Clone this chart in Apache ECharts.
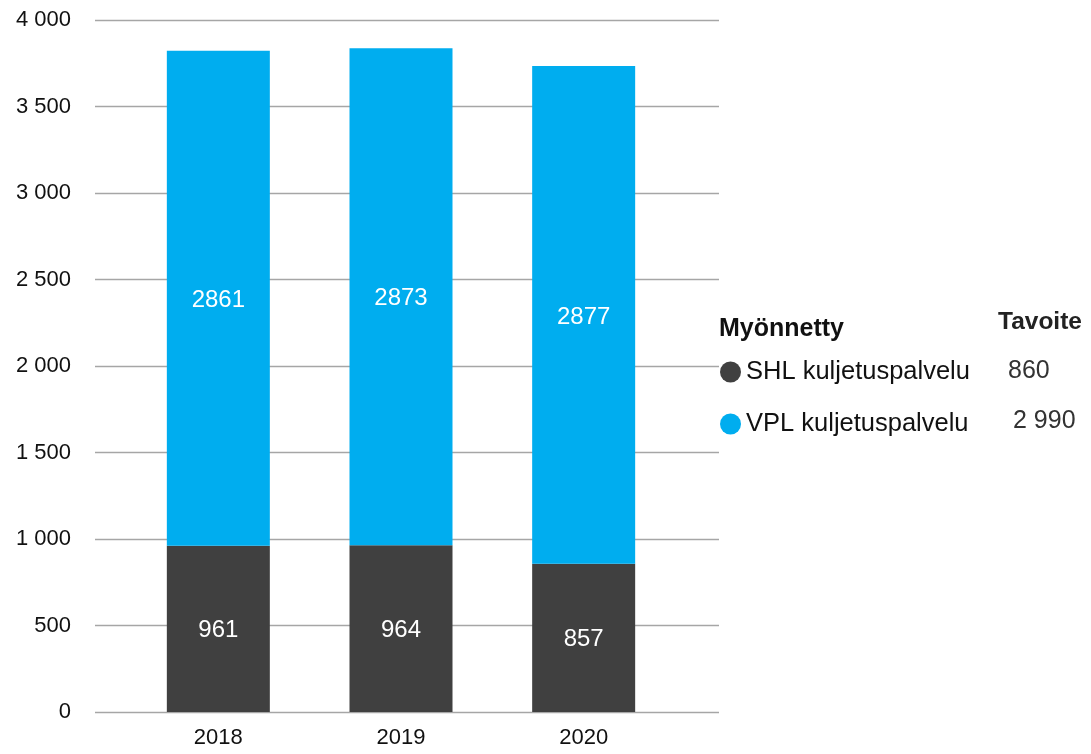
<!DOCTYPE html>
<html>
<head>
<meta charset="utf-8">
<script src="https://cdn.jsdelivr.net/npm/echarts@6/dist/echarts.min.js"></script>
<style>
  html, body { margin: 0; padding: 0; background: #ffffff; }
  #chart { width: 1091px; height: 754px; }
</style>
</head>
<body>
<div id="chart"></div>
<script>
// Myönnetyt kuljetuspalvelut vuosittain
const years = ['2018', '2019', '2020'];
const seriesNames = ['SHL kuljetuspalvelu', 'VPL kuljetuspalvelu'];
const shlValues = [961, 964, 857];
const vplValues = [2861, 2873, 2877];
const targetLabels = ['860', '2 990'];
const yTicks = [0, 500, 1000, 1500, 2000, 2500, 3000, 3500, 4000];

const FONT = "'Liberation Sans', Arial, sans-serif";
const SHL_COLOR = '#404040';
const VPL_COLOR = '#00adef';
const GRID_COLOR = '#a6a6a6';

const fmtThousands = v => String(v).replace(/\B(?=(\d{3})+(?!\d))/g, ' ');

const chart = echarts.init(document.getElementById('chart'), null, { renderer: 'canvas' });

const barLabel = {
  show: true,
  position: 'inside',
  color: '#ffffff',
  fontFamily: FONT,
  fontSize: 24,
  offset: [0, 2]
};

chart.setOption({
  animation: false,
  backgroundColor: '#ffffff',
  grid: [
    // plot area with gridlines and value labels
    { left: 95, right: 372, top: 20, bottom: 42 },
    // band area holding the bars
    { left: 127, right: 416, top: 20, bottom: 42 }
  ],
  xAxis: [
    { gridIndex: 0, type: 'value', min: 0, max: 1, show: false },
    {
      gridIndex: 1,
      type: 'category',
      data: years,
      axisLine: { show: false },
      axisTick: { show: false },
      axisLabel: { color: '#111111', fontFamily: FONT, fontSize: 22, margin: 15 }
    }
  ],
  yAxis: [
    {
      gridIndex: 0,
      type: 'value',
      min: yTicks[0],
      max: yTicks[yTicks.length - 1],
      interval: yTicks[1] - yTicks[0],
      axisLine: { show: false },
      axisTick: { show: false },
      splitLine: { show: true, lineStyle: { color: GRID_COLOR, width: 1.3 } },
      axisLabel: {
        color: '#111111',
        fontFamily: FONT,
        fontSize: 22,
        margin: 24,
        formatter: v => fmtThousands(v)
      }
    },
    {
      gridIndex: 1,
      type: 'value',
      min: yTicks[0],
      max: yTicks[yTicks.length - 1],
      show: false,
      splitLine: { show: false }
    }
  ],
  legend: {
    orient: 'vertical',
    left: 720,
    top: 359,
    padding: 0,
    itemGap: 26,
    itemWidth: 21,
    itemHeight: 21,
    icon: 'circle',
    selectedMode: false,
    data: seriesNames,
    textStyle: { color: '#111111', fontFamily: FONT, fontSize: 25.5, lineHeight: 21, padding: [0, 0, 0, 0] }
  },
  graphic: [
    {
      type: 'text', left: 719, top: 317,
      style: { text: 'Myönnetty', fill: '#111111', font: "bold 25px 'Liberation Sans', Arial, sans-serif" }
    },
    {
      type: 'text', left: 998, top: 310,
      style: { text: 'Tavoite', fill: '#222222', font: "bold 24.5px 'Liberation Sans', Arial, sans-serif" }
    },
    ...targetLabels.map((t, i) => ({
      type: 'text',
      left: [1008, 1013][i],
      top: 359 + i * 50,
      style: { text: t, fill: '#333333', font: "25px 'Liberation Sans', Arial, sans-serif" }
    }))
  ],
  series: [
    {
      name: seriesNames[0],
      type: 'bar',
      stack: 'total',
      xAxisIndex: 1,
      yAxisIndex: 1,
      barWidth: 103,
      itemStyle: { color: SHL_COLOR },
      label: barLabel,
      data: shlValues
    },
    {
      name: seriesNames[1],
      type: 'bar',
      stack: 'total',
      xAxisIndex: 1,
      yAxisIndex: 1,
      barWidth: 103,
      itemStyle: { color: VPL_COLOR },
      label: barLabel,
      data: vplValues
    }
  ]
});
</script>
</body>
</html>
